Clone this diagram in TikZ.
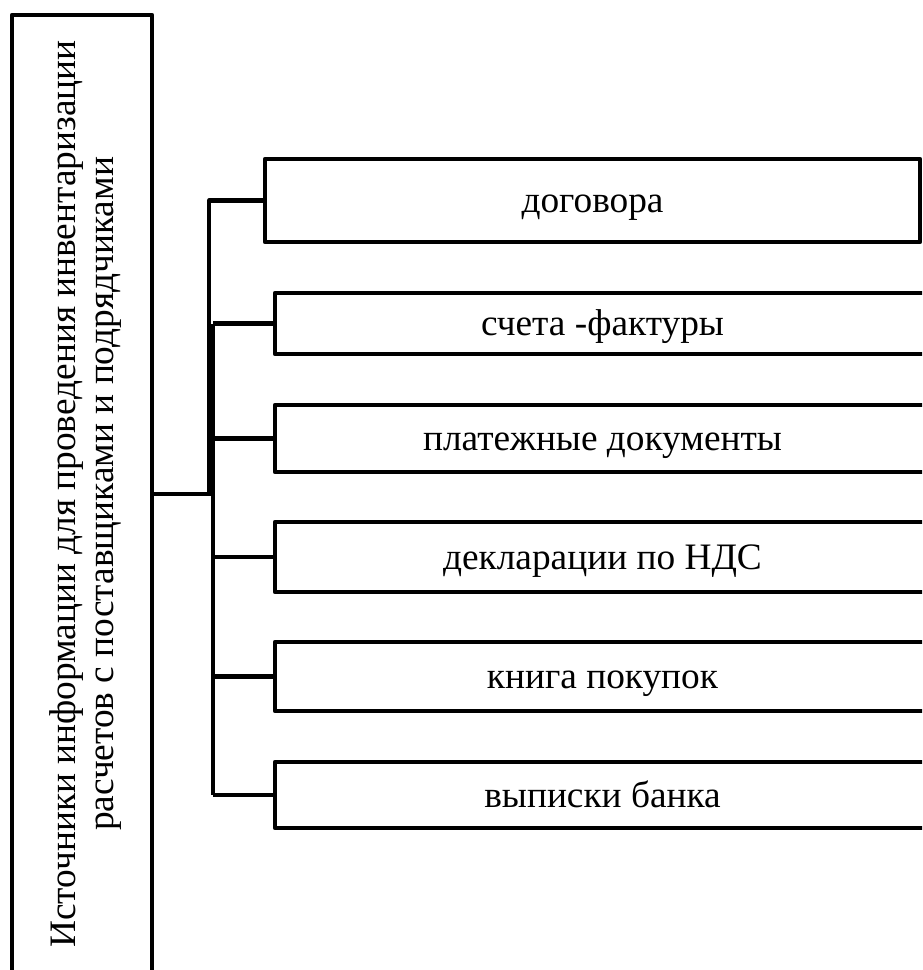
\documentclass[tikz,border=0pt]{standalone}
\usepackage{fontspec}
\setmainfont{Liberation Serif}

\tikzset{
  srcbox/.style={draw, line width=3.3pt, rotate=90, align=center, inner sep=0pt,
    minimum width=718.5pt, minimum height=105pt},
  docbox/.style={draw, line width=3.3pt, inner sep=0pt, minimum width=491.25pt,
    text height=20pt, text depth=2pt},
  link/.style={line width=3.1pt}
}

\begin{document}
\begin{tikzpicture}[x=0.75pt,y=0.75pt,font=\fontsize{28}{28.5}\selectfont,line join=round]
\useasboundingbox (0,0) rectangle (922,-970);
\clip (0,0) rectangle (922,-970);

% source (bottom edge runs off the page)
\node [srcbox] (src) at (82,-494)
  {\rule{0pt}{24pt}Источники информации для проведения инвентаризации\\расчетов с поставщиками и подрядчиками};

% documents
\node [docbox,minimum height=62.25pt] (dog) at (592.5,-200.5) {договора};
\node [docbox,minimum height=45.75pt] (sf) at (602.5,-323.5) {счета -фактуры};
\node [docbox,minimum height=50.25pt] (pd) at (602.5,-438.5) {платежные документы};
\node [docbox,minimum height=52.5pt] (nds) at (602.5,-557) {декларации по НДС};
\node [docbox,minimum height=51.75pt] (kp) at (602.5,-676.5) {книга покупок};
\node [docbox,minimum height=49.5pt] (vb) at (602.5,-795) {выписки банка};

% bus
\coordinate (jA) at (209,-494);
\coordinate (jB) at (213,-494);
\draw [link] (src.south) -- (jB);
\draw [link] (jA) |- (dog.west);
\draw [link] (sf.west -| jB) -- (vb.west -| jB);
\foreach \d in {sf,pd,nds,kp,vb}
  \draw [link] (\d.west -| jB) -- (\d.west);
\end{tikzpicture}
\end{document}
